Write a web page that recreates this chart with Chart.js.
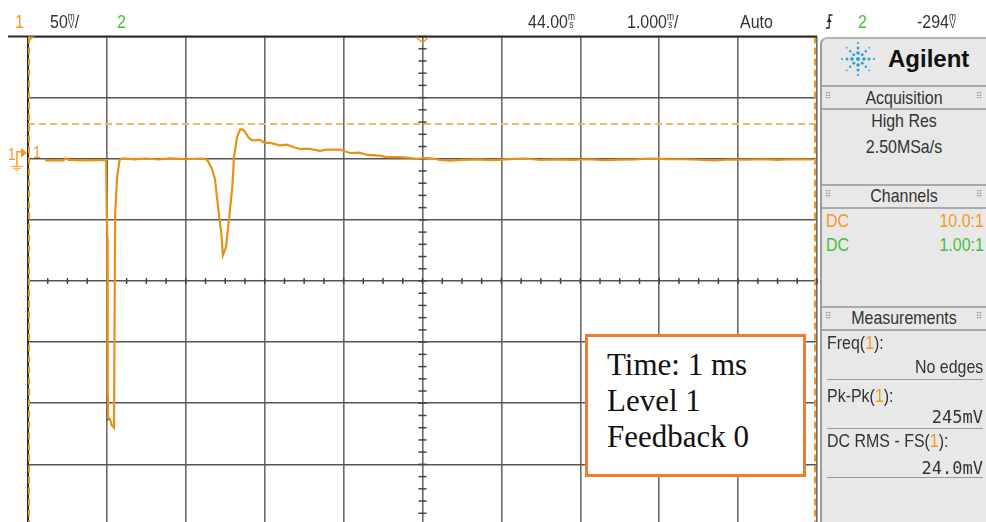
<!DOCTYPE html>
<html>
<head>
<meta charset="utf-8">
<script src="https://cdn.jsdelivr.net/npm/chart.js@4.4.1/dist/chart.umd.min.js"></script>
<style>
html, body { margin: 0; padding: 0; background: #fff; }
body { width: 986px; height: 522px; overflow: hidden; position: relative;
       font-family: "Liberation Sans Narrow", "Arial Narrow", "Liberation Sans", sans-serif; }
#wrap { position: absolute; left: 0; top: 0; width: 986px; height: 530px; }
.t { position: absolute; white-space: nowrap; font-size: 19px; line-height: 19px; color: #333;
     transform: scaleX(0.84); transform-origin: left center; }
.t.r { transform-origin: right center; }
.t.c { transform-origin: center center; }
.or { color: #f39a1e; }
.gr { color: #45c034; }
.mono { font-family: "DejaVu Sans Mono", monospace; font-size: 17px; transform: none; }
.u { display: inline-block; font-size: 10px; line-height: 8px; text-align: center; }
#panel { position: absolute; left: 820px; top: 37px; width: 170px; height: 500px; background: #e8e8e8;
         border-left: 2px solid #9c9c9c; border-top: 2px solid #b4b4b4; border-top-left-radius: 7px; }
.hl { position: absolute; left: 822px; width: 164px; height: 2px; background: #a9a9a9; }
.ul { position: absolute; left: 827px; width: 156px; height: 1px; border-top: 1px solid #9a9a9a; }
.grip { position: absolute; font-family: "DejaVu Sans", sans-serif; font-size: 9px; color: #8a8a8a; }
#box { position: absolute; left: 585px; top: 334px; width: 196px; height: 127px; border: 3px solid #ed7d31;
       background: #fff; padding: 10px 0 0 19px; font-family: "Liberation Serif", "Times New Roman", serif;
       font-size: 31px; line-height: 36px; color: #111; }
</style>
</head>
<body>
<div id="wrap"><canvas id="scope" width="986" height="530"></canvas></div>
<div id="panel"></div>
<svg style="position:absolute;left:836px;top:40px" width="44" height="40" id="logo"></svg>
<div id="box">Time: 1 ms<br>Level 1<br>Feedback 0</div>
<script>
// scope settings
const timeMin = 39, timeMax = 49;      // ms, 1 ms/div around 44.00 ms
const mvMin = -300, mvMax = 100;       // mV, 50 mV/div
const cursorTimes = [39.013, 48.975];
const cursorLevelMv = 28.4;

// channel 1 trace
const timeMs = [39.22, 39.30, 39.45, 39.47, 39.52, 39.70, 39.85, 39.99,
  40.00, 40.005, 40.01, 40.015, 40.04, 40.06, 40.09, 40.10, 40.105, 40.13, 40.16,
  40.20, 40.35, 40.50, 40.65, 40.80, 41.00, 41.20, 41.27,
  41.33, 41.37, 41.41, 41.45, 41.47, 41.51, 41.55, 41.59, 41.61, 41.65, 41.69, 41.72, 41.75, 41.80, 41.84,
  41.94, 42.00, 42.07, 42.19, 42.28, 42.36, 42.45, 42.57, 42.70, 42.79, 42.95, 43.08, 43.20, 43.30,
  43.45, 43.55, 43.70, 43.80, 43.92, 44.06, 44.15, 44.22, 44.35, 44.50,
  44.70, 44.90, 45.10, 45.30, 45.50, 45.70, 45.90, 46.10, 46.30, 46.50, 46.70, 46.90,
  47.10, 47.30, 47.50, 47.70, 47.90, 48.10, 48.30, 48.50, 48.70, 48.94];
const ch1mV = [-1.5, -1.2, -1.3, 0.3, -1.0, -1.4, -1.2, -1.2,
  -1.2, -65, -193, -212, -213, -218, -220, -220, -44, -15, -1,
  0.3, -0.5, 0.2, -0.6, 0.3, -0.4, 0.2, -0.8,
  -8, -17, -40, -61, -79, -72, -48, -23, 0.6, 18, 24, 24, 22, 17, 15,
  15.5, 13, 13, 11, 11.5, 9.6, 8, 8, 6.5, 7.5, 7.5, 4.7, 5, 3.1,
  2.5, 1.4, 1.4, 1.0, 0, 0.6, 0, -1, -1.5, -1,
  -0.5, -1.2, -0.3, 0.2, -1, -0.5, -1, -0.4, -1.2, -0.7, -0.5, 0.2,
  -0.3, -0.4, -0.8, -1.4, -0.6, -0.8, -0.4, -0.9, -0.4, -0.6];

// dark segments drawn over the fast falling edge
const edgeTimeMs = [40.0, 40.0, 40.006, 40.011, 40.011];
const edgeMv = [-1.2, -65, null, -193, -214];

const scopeDecor = {
  id: 'scopeDecor',
  beforeDatasetsDraw(chart) {
    const {ctx, chartArea: a, scales: {x, y}} = chart;
    ctx.save();
    // minor ticks on the centre axes
    ctx.strokeStyle = '#444';
    ctx.lineWidth = 1.5;
    const cy = y.getPixelForValue(-100), cx = x.getPixelForValue(44);
    for (let t = timeMin; t <= timeMax; t += 0.25) {
      const px = x.getPixelForValue(t);
      ctx.beginPath(); ctx.moveTo(px, cy - 3); ctx.lineTo(px, cy + 3); ctx.stroke();
    }
    for (let v = mvMin; v <= mvMax; v += 10) {
      const py = y.getPixelForValue(v);
      ctx.beginPath(); ctx.moveTo(cx - 4, py); ctx.lineTo(cx + 4, py); ctx.stroke();
    }
    // cursors
    ctx.setLineDash([7, 4]);
    ctx.lineWidth = 2;
    ctx.strokeStyle = '#f8b463';
    const ly = y.getPixelForValue(cursorLevelMv);
    ctx.beginPath(); ctx.moveTo(a.left, ly); ctx.lineTo(a.right, ly); ctx.stroke();
    ctx.strokeStyle = '#f0961e';
    cursorTimes.forEach(t => {
      const px = x.getPixelForValue(t);
      ctx.beginPath(); ctx.moveTo(px, a.top); ctx.lineTo(px, a.bottom); ctx.stroke();
    });
    ctx.restore();
  },
  afterDraw(chart) {
    const {ctx, chartArea: a, scales: {x, y}} = chart;
    ctx.save();
    // frame top
    ctx.strokeStyle = '#2a2a2a';
    ctx.lineWidth = 2;
    ctx.beginPath(); ctx.moveTo(8, a.top); ctx.lineTo(a.right, a.top); ctx.stroke();
    // trigger position marker (open V) and left corner flag
    ctx.strokeStyle = '#f39a1e';
    ctx.lineWidth = 1.5;
    const tx = x.getPixelForValue(44);
    ctx.beginPath();
    ctx.moveTo(tx - 6, a.top + 1); ctx.lineTo(tx, a.top + 6); ctx.lineTo(tx + 6, a.top + 1);
    ctx.stroke();
    ctx.fillStyle = '#f39a1e';
    ctx.beginPath();
    ctx.moveTo(a.left, a.top); ctx.lineTo(a.left + 7, a.top); ctx.lineTo(a.left, a.top + 6);
    ctx.closePath(); ctx.fill();
    // ground reference marker for channel 1
    const gy = y.getPixelForValue(0);
    ctx.beginPath();
    ctx.moveTo(17, gy + 7); ctx.lineTo(17, gy - 7); ctx.lineTo(21, gy - 7);
    ctx.stroke();
    ctx.beginPath();
    ctx.moveTo(21, gy - 11); ctx.lineTo(27, gy - 6); ctx.lineTo(21, gy - 1);
    ctx.closePath(); ctx.fill();
    ctx.lineWidth = 1;
    [[11, 23, 7], [13, 21, 9], [15, 19, 11]].forEach(([x0, x1, dy]) => {
      ctx.beginPath(); ctx.moveTo(x0, gy + dy + 0.5); ctx.lineTo(x1, gy + dy + 0.5); ctx.stroke();
    });
    ctx.restore();
  }
};

const ctx = document.getElementById('scope').getContext('2d');
const scope = new Chart(ctx, {
  type: 'line',
  data: {
    datasets: [{
      label: 'Channel 1',
      data: timeMs.map((t, i) => ({x: t, y: ch1mV[i]})),
      borderColor: '#ec9014',
      borderWidth: 2.2,
      pointRadius: 0,
      tension: 0
    }, {
      label: 'edge',
      data: edgeTimeMs.map((t, i) => ({x: t, y: edgeMv[i]})),
      borderColor: '#4a4a4a',
      borderWidth: 2,
      pointRadius: 0,
      spanGaps: false
    }]
  },
  options: {
    responsive: false,
    animation: false,
    events: [],
    layout: {padding: {left: 28, right: 169, top: 36.5, bottom: 4.5}},
    plugins: {legend: {display: false}, tooltip: {enabled: false}},
    scales: {
      x: {
        type: 'linear', min: timeMin, max: timeMax,
        ticks: {display: false, stepSize: 1},
        grid: {color: '#6a6a6a', lineWidth: 1.6, drawTicks: false},
        border: {display: false}
      },
      y: {
        type: 'linear', min: mvMin, max: mvMax,
        ticks: {display: false, stepSize: 50},
        grid: {color: '#555', lineWidth: 1.6, drawTicks: false},
        border: {display: true, color: '#2a2a2a', width: 2}
      }
    }
  },
  plugins: [scopeDecor]
});

// text overlays (baseline-positioned)
function put(html, x, base, cls, align) {
  const d = document.createElement('div');
  d.className = 't ' + (cls || '');
  d.innerHTML = html;
  const fs = (cls || '').includes('mono') ? 17 : 19;
  d.style.top = (base - fs * 0.845) + 'px';
  if (align === 'right') { d.style.right = (986 - x) + 'px'; d.classList.add('r'); }
  else if (align === 'center') { d.style.left = (x - 90) + 'px'; d.style.width = '180px'; d.style.textAlign = 'center'; d.classList.add('c'); }
  else d.style.left = x + 'px';
  document.body.appendChild(d);
  return d;
}
const unit = (a, b) => '<span class="u">' + a + '<br>' + b + '</span>';

// top status bar
put('1', 15, 28, 'or');
put('50' + unit('m', 'V') + '/', 50, 28);
put('2', 117, 28, 'gr');
put('44.00' + unit('m', 's'), 528, 28);
put('1.000' + unit('m', 's') + '/', 627, 28);
put('Auto', 740, 28);
put('<svg width="10" height="15" style="vertical-align:-1px"><path d="M1 14 H5 V1 H9" fill="none" stroke="#222" stroke-width="1.4"/><path d="M2 8 L5 4 L8 8 Z" fill="#222"/></svg>', 825, 28);
put('2', 858, 28, 'gr');
put('-294' + unit('m', 'V'), 917, 28);

// ground marker labels
const g1 = put('1', 8, 161, 'or'); g1.style.fontSize = '16px';
const g2 = put('1', 33, 159, 'or'); g2.style.fontSize = '17px';

// side panel
[85, 108, 184, 207, 306, 329].forEach(yy => {
  const d = document.createElement('div'); d.className = 'hl'; d.style.top = yy + 'px'; document.body.appendChild(d);
});
[379, 428, 477].forEach(yy => {
  const d = document.createElement('div'); d.className = 'ul'; d.style.top = yy + 'px'; document.body.appendChild(d);
});
[[97], [195], [317]].forEach(([yy]) => {
  [825, 976].forEach(xx => {
    const d = document.createElement('div'); d.className = 'grip'; d.textContent = '\u283F';
    d.style.left = xx + 'px'; d.style.top = (yy - 6) + 'px'; document.body.appendChild(d);
  });
});
const ag = put('Agilent', 888, 67);
ag.style.fontFamily = '"Liberation Sans", Arial, sans-serif';
ag.style.fontWeight = 'bold'; ag.style.fontSize = '24px'; ag.style.color = '#111';
ag.style.transform = 'none'; ag.style.top = (67 - 20) + 'px'; ag.style.lineHeight = '24px';

put('Acquisition', 904, 104, '', 'center');
put('High Res', 904, 127, '', 'center');
put('2.50MSa/s', 904, 153, '', 'center');
put('Channels', 904, 202, '', 'center');
put('DC', 826, 227, 'or');
put('10.0:1', 984, 227, 'or', 'right');
put('DC', 826, 251, 'gr');
put('1.00:1', 984, 251, 'gr', 'right');
put('Measurements', 904, 324, '', 'center');
put('Freq(<span class="or">1</span>):', 827, 349);
put('No edges', 983, 373, '', 'right');
put('Pk-Pk(<span class="or">1</span>):', 827, 402);
put('245mV', 983, 422, 'mono', 'right');
put('DC RMS - FS(<span class="or">1</span>):', 827, 447);
put('24.0mV', 983, 473, 'mono', 'right');

// Agilent spark logo
const logo = document.getElementById('logo');
let dots = '<circle cx="22" cy="19" r="2" fill="#2a9fd8"/>';
for (let k = 0; k < 8; k++) {
  const ang = k * Math.PI / 4;
  [6, 11, 16].forEach((r, j) => {
    const rr = [1.8, 1.5, 1.1][j] * (k % 2 ? 0.8 : 1);
    dots += '<circle cx="' + (22 + r * Math.cos(ang)).toFixed(1) + '" cy="' + (19 + r * Math.sin(ang)).toFixed(1) +
            '" r="' + rr + '" fill="#2a9fd8"/>';
  });
}
logo.innerHTML = dots;
</script>
</body>
</html>
